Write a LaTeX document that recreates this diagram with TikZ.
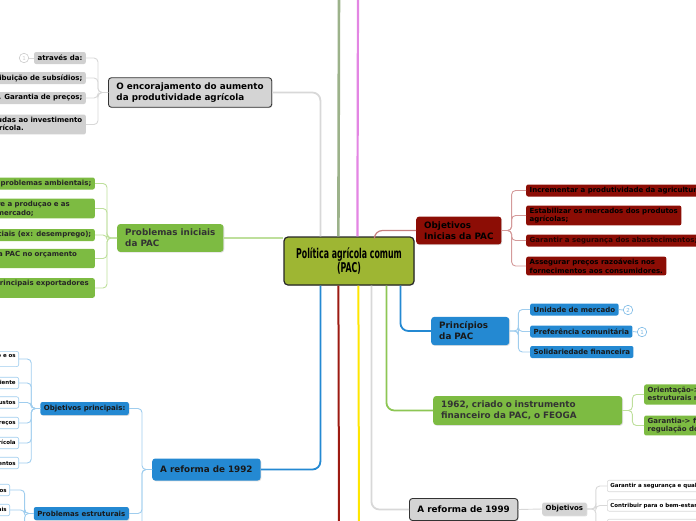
\documentclass[tikz,border=0pt]{standalone}
\usepackage{fontspec}
\setmainfont{DejaVu Sans}
\newfontfamily\rootfont[FakeStretch=0.58]{DejaVu Sans}
\usetikzlibrary{positioning, calc, shadows}
\definecolor{rootgreen}{HTML}{9EB633}
\definecolor{topicgray}{HTML}{D4D4D4}
\definecolor{leafgray}{HTML}{D0D0D0}
\definecolor{pacgreen}{HTML}{7DBB42}
\definecolor{pacred}{HTML}{8C0D05}
\definecolor{pacblue}{HTML}{2489D2}
\definecolor{paleblue}{HTML}{9FCDEE}
\definecolor{palegreen}{HTML}{BEDF9C}
\definecolor{palered}{HTML}{D49A9A}
\definecolor{palegray}{HTML}{D8D8D8}
\definecolor{inkgray}{HTML}{333333}
\definecolor{olivestem}{HTML}{9CB28A}
\definecolor{pinkstem}{HTML}{E386E3}
\definecolor{yellowstem}{HTML}{FFE600}
\definecolor{redstem}{HTML}{9C1A12}
\definecolor{greenstem}{HTML}{8DC654}
\tikzset{
	mapshadow/.style={drop shadow={opacity=0.25, shadow xshift=0.8pt, shadow yshift=-0.8pt}}
}
\tikzset{
	rootnode/.style={draw=black!85, line width=1.2pt, fill=rootgreen, rounded corners=4pt,
			minimum width=130pt, minimum height=48pt, align=center,
			font=\rootfont\bfseries\fontsize{13.5}{14}\selectfont, mapshadow},
	bigtopic/.style={rounded corners=3pt, align=left, inner xsep=8pt, inner ysep=5pt,
			minimum height=22pt, font=\fontsize{8.8}{11}\selectfont\bfseries, mapshadow},
	midtopic/.style={rounded corners=2pt, align=left, inner xsep=3.5pt, inner ysep=2pt,
			minimum height=13pt, font=\fontsize{7}{8.5}\selectfont\bfseries, mapshadow},
	leaf/.style={rounded corners=2pt, align=left, inner xsep=3.5pt, inner ysep=2.3pt,
			minimum height=12pt, font=\fontsize{7}{8.5}\selectfont\bfseries},
	tinyleaf/.style={rounded corners=2pt, align=left, inner xsep=3pt, inner ysep=2pt,
			minimum height=11.5pt, fill=white, line width=0.6pt,
			font=\fontsize{5.5}{6.8}\selectfont\bfseries},
	numtag/.style={circle, draw=#1, fill=white, line width=0.6pt, inner sep=0pt,
			minimum size=9.5pt, text=#1, font=\fontsize{5.5}{5.5}\selectfont}
}
\tikzset{
	stem/.style={line width=#1, rounded corners=8pt},
	twig/.style={line width=0.9pt, rounded corners=4pt}
}

\begin{document}
\begin{tikzpicture}[x=1pt, y=-1pt]
	\useasboundingbox (0,0) rectangle (696,520);
	\clip (0,0) rectangle (696,520);

	\node[rootnode] (root) at (349,261) {Política agrícola comum\\(PAC)};

	\begin{scope}
		\node[bigtopic, fill=topicgray, draw=black!80, line width=0.9pt, anchor=west] (enc) at (108,92.5) {O encorajamento do aumento\\da produtividade agrícola};
		\node[leaf, fill=leafgray, anchor=east] (ea) at (86,58) {através da:};
		\node[numtag=black!20] (ean) at (24,58) {1};
		\node[leaf, fill=leafgray, anchor=east] (eb) at (86,78) {1. Distribuição de subsídios;};
		\node[leaf, fill=leafgray, anchor=east] (ec) at (86,98) {2. Garantia de preços;};
		\node[leaf, fill=leafgray, anchor=east] (ed) at (86,124.5) {Ajudas ao investimento\\agrícola.};
	\end{scope}

	\begin{scope}
		\node[bigtopic, fill=pacgreen, text=inkgray, anchor=west] (prob) at (117,238) {Problemas iniciais\\da PAC};
		\node[leaf, fill=pacgreen, text=black!85, anchor=east] (pa) at (95,183.5) {Graves problemas ambientais;};
		\node[leaf, fill=pacgreen, text=black!85, text width=162pt, anchor=east] (pb) at (95,208.5) {Desequilíbrio entre a produçao e as\\necessidades do mercado;};
		\node[leaf, fill=pacgreen, text=black!85, anchor=east] (pc) at (95,235) {Problemas sociais (ex: desemprego);};
		\node[leaf, fill=pacgreen, text=black!85, text width=160pt, anchor=east] (pd) at (95,258.5) {Peso excessivo da PAC no orçamento\\comunitário;};
		\node[leaf, fill=pacgreen, text=black!85, text width=160pt, anchor=east] (pe) at (95,288) {Tensões com os principais exportadores\\mundiais;};
	\end{scope}

	\begin{scope}
		\node[bigtopic, fill=pacblue, text=black!90, anchor=west] (r92) at (152,469.5) {A reforma de 1992};
		\node[midtopic, fill=pacblue, text=black!90, anchor=east] (objp) at (129,408.5) {Objetivos principais:};
		\node[midtopic, fill=pacblue, text=black!90, anchor=east] (probest) at (129,513.5) {Problemas estruturais};
		\coordinate (r92more) at (129,560);

		\node[tinyleaf, draw=paleblue, anchor=east] (oa) at (19,359) {Reduzir a produção e os\\excedentes};
		\node[tinyleaf, draw=paleblue, anchor=east] (ob) at (19,383) {Proteger o ambiente};
		\node[tinyleaf, draw=paleblue, anchor=east] (oc) at (19,402.5) {Reduzir os custos};
		\node[tinyleaf, draw=paleblue, anchor=east] (od) at (19,423) {Baixar os preços};
		\node[tinyleaf, draw=paleblue, anchor=east] (oe) at (19,443) {Competitividade agrícola};
		\node[tinyleaf, draw=paleblue, anchor=east] (of) at (19,463) {Estabilizar os rendimentos};

		\node[tinyleaf, draw=paleblue, anchor=east] (pea) at (10,490) {Excedentes elevados};
		\node[tinyleaf, draw=paleblue, anchor=east] (peb) at (10,510) {Custos orçamentais};
		\coordinate (pemore) at (10,560);
	\end{scope}

	\begin{scope}
		\node[bigtopic, fill=pacred, text=black, anchor=west] (oi) at (416,230.5) {Objetivos\\Inicias da PAC};
		\node[leaf, fill=pacred, text=black, anchor=west] (oia) at (526,190.5) {Incrementar a produtividade da agricultura;};
		\node[leaf, fill=pacred, text=black, anchor=west] (oib) at (526,215.5) {Estabilizar os mercados dos produtos\\agrícolas;};
		\node[leaf, fill=pacred, text=black!75!pacred, anchor=west] (oic) at (526,240.5) {Garantir a segurança dos abastecimentos;};
		\node[leaf, fill=pacred, text=black, anchor=west] (oid) at (526,266) {Assegurar preços razoáveis nos\\fornecimentos aos consumidores.};
	\end{scope}

	\begin{scope}
		\node[bigtopic, fill=pacblue, text=black!90, text width=62pt, anchor=west] (pp) at (431,331) {Princípios\\da PAC};
		\node[leaf, fill=pacblue, text=black!90, anchor=west] (ppa) at (530,309.5) {Unidade de mercado};
		\node[leaf, fill=pacblue, text=black!90, anchor=west] (ppb) at (530,331.5) {Preferência comunitária};
		\node[leaf, fill=pacblue, text=black!90, anchor=west] (ppc) at (530,352) {Solidariedade financeira};
		\node[numtag=paleblue!70!pacblue] (ppan) at (628,310) {2};
		\node[numtag=paleblue!70!pacblue] (ppbn) at (642,332) {1};
	\end{scope}

	\begin{scope}
		\node[bigtopic, fill=pacgreen, text=inkgray, text width=173pt, anchor=west] (f62) at (433,410.5) {1962, criado o instrumento\\financeiro da PAC, o FEOGA};
		\node[leaf, fill=pacgreen, text=black!85, anchor=west] (fa) at (644,394.5) {Orientação-> financiamento das reformas\\estruturais na agricultura;};
		\node[leaf, fill=pacgreen, text=black!85, anchor=west] (fb) at (644,425.5) {Garantia-> financiamento das despesas de\\regulação dos mercados;};
	\end{scope}

	\begin{scope}
		\node[bigtopic, fill=topicgray, draw=black!80, line width=0.9pt, anchor=west] (r99) at (409,509.5) {A reforma de 1999};
		\node[midtopic, fill=topicgray, anchor=west] (obj99) at (542,509) {Objetivos};
		\node[tinyleaf, draw=palegray, anchor=west] (ya) at (607,486) {Garantir a segurança e qualidade dos alimentos;};
		\node[tinyleaf, draw=palegray, anchor=west] (yb) at (607,505.5) {Contribuir para o bem-estar dos animais;};
		\node[tinyleaf, draw=palegray, minimum width=120pt, anchor=west] (yc) at (607,525) {};
	\end{scope}

	\coordinate (redend) at (339,530);
	\coordinate (yellowend) at (359,530);
	\coordinate (oliveend) at (339,-10);
	\coordinate (pinkend) at (358,-10);

	\begin{scope}
		\draw[stem=2.6pt, olivestem] ([xshift=55pt]root.north west) -- (oliveend);
		\draw[stem=2.2pt, pinkstem] ([xshift=74pt]root.north west) -- (pinkend);
		\draw[stem=2pt, redstem] ([xshift=55pt]root.south west) -- (redend);
		\draw[stem=2pt, yellowstem] ([xshift=75pt]root.south west) -- (yellowend);
		\draw[stem=1.8pt, palegray] (enc.east) -| ([xshift=37pt]root.north west);
		\draw[stem=1.2pt, palegreen] (prob.east) -- (prob.east -| root.west);
		\draw[stem=1.2pt, palered!80!pacred] ([xshift=91pt]root.north west) |- (oi.west);
		\draw[stem=1.8pt, pacblue] ([xshift=117pt]root.south west) |- (pp.west);
		\draw[stem=1.8pt, greenstem] ([xshift=103pt]root.south west) |- (f62.west);
		\draw[stem=1.8pt, palegray] ([xshift=88pt]root.south west) |- (r99.west);
		\draw[stem=1.8pt, pacblue] ([xshift=37pt]root.south west) |- (r92.east);
	\end{scope}

	\begin{scope}[palegray]
		\draw[twig] (enc.west) -- ++(-10,0) |- (ea.east);
		\draw[twig] (enc.west) -- ++(-10,0) |- (eb.east);
		\draw[twig] (enc.west) -- ++(-10,0) |- (ec.east);
		\draw[twig] (enc.west) -- ++(-10,0) |- (ed.east);
		\draw[twig] (ea.west) -- (ean.east);
		\draw[twig] (obj99.east) -- ++(9,0) |- (ya.west);
		\draw[twig] (obj99.east) -- ++(9,0) |- (yb.west);
		\draw[twig] (obj99.east) -- ++(9,0) |- (yc.west);
		\draw[twig] (r99.east) -- (obj99.west);
	\end{scope}

	\begin{scope}[palegreen]
		\draw[twig] (prob.west) -- ++(-10,0) |- (pa.east);
		\draw[twig] (prob.west) -- ++(-10,0) |- (pb.east);
		\draw[twig] (prob.west) -- ++(-10,0) |- (pc.east);
		\draw[twig] (prob.west) -- ++(-10,0) |- (pd.east);
		\draw[twig] (prob.west) -- ++(-10,0) |- (pe.east);
		\draw[twig] (f62.east) -- ++(10,0) |- (fa.west);
		\draw[twig] (f62.east) -- ++(10,0) |- (fb.west);
	\end{scope}

	\begin{scope}[palered]
		\draw[twig] (oi.east) -- ++(10,0) |- (oia.west);
		\draw[twig] (oi.east) -- ++(10,0) |- (oib.west);
		\draw[twig] (oi.east) -- ++(10,0) |- (oic.west);
		\draw[twig] (oi.east) -- ++(10,0) |- (oid.west);
	\end{scope}

	\begin{scope}[paleblue]
		\draw[twig] (pp.east) -- ++(9,0) |- (ppa.west);
		\draw[twig] (pp.east) -- ++(9,0) |- (ppb.west);
		\draw[twig] (pp.east) -- ++(9,0) |- (ppc.west);
		\draw[twig] (ppa.east) -- (ppan.west);
		\draw[twig] (ppb.east) -- (ppbn.west);
		\draw[twig] (r92.west) -- ++(-10,0) |- (objp.east);
		\draw[twig] (r92.west) -- ++(-10,0) |- (probest.east);
		\draw[twig] (r92.west) -- ++(-10,0) |- (r92more);
		\draw[twig] (objp.west) -- ++(-9,0) |- (oa.east);
		\draw[twig] (objp.west) -- ++(-9,0) |- (ob.east);
		\draw[twig] (objp.west) -- ++(-9,0) |- (oc.east);
		\draw[twig] (objp.west) -- ++(-9,0) |- (od.east);
		\draw[twig] (objp.west) -- ++(-9,0) |- (oe.east);
		\draw[twig] (objp.west) -- ++(-9,0) |- (of.east);
		\draw[twig] (probest.west) -- ++(-9,0) |- (pea.east);
		\draw[twig] (probest.west) -- ++(-9,0) |- (peb.east);
		\draw[twig] (probest.west) -- ++(-9,0) |- (pemore);
	\end{scope}

\end{tikzpicture}
\end{document}
